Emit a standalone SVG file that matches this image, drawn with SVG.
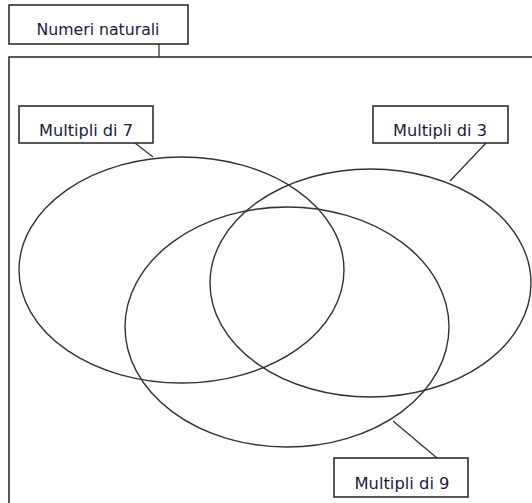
<svg xmlns="http://www.w3.org/2000/svg" width="532" height="503" viewBox="0 0 532 503">
<style>
.box{fill:#fff;stroke:#222;stroke-width:1.5}
.set{fill:none;stroke:#333;stroke-width:1.4}
.ln{fill:none;stroke:#333;stroke-width:1.3}
.lbl{font-family:"Comic Sans MS","DejaVu Sans Condensed","DejaVu Sans",sans-serif;font-size:15px;fill:#1a1a40;text-anchor:middle}
</style>
<rect width="532" height="503" fill="#fff"/>
<g id="universe">
<rect x="9" y="57" width="540" height="460" class="set" style="stroke:#222;stroke-width:1.5"/>
</g>
<g id="sets">
<ellipse id="set7" cx="181.5" cy="270" rx="162.5" ry="113" class="set"/>
<ellipse id="set3" cx="370.5" cy="283" rx="160.5" ry="114" class="set"/>
<ellipse id="set9" cx="287" cy="327" rx="162" ry="120" class="set"/>
</g>
<g id="connectors">
<line x1="159" y1="44" x2="159" y2="57" class="ln"/>
<line x1="135" y1="143" x2="153" y2="157" class="ln"/>
<line x1="486" y1="143" x2="450" y2="181" class="ln"/>
<line x1="437" y1="458" x2="393" y2="421" class="ln"/>
</g>
<g id="n-naturali">
<rect x="9" y="5" width="179" height="39" class="box"/>
<text x="98" y="35" class="lbl" textLength="123" lengthAdjust="spacingAndGlyphs">Numeri naturali</text>
</g>
<g id="n-7">
<rect x="19" y="106" width="134" height="37" class="box"/>
<text x="86" y="136" class="lbl" textLength="94" lengthAdjust="spacingAndGlyphs">Multipli di 7</text>
</g>
<g id="n-3">
<rect x="373" y="106" width="135" height="37" class="box"/>
<text x="440" y="136" class="lbl" textLength="94" lengthAdjust="spacingAndGlyphs">Multipli di 3</text>
</g>
<g id="n-9">
<rect x="334" y="458" width="134" height="39" class="box"/>
<text x="402" y="489" class="lbl" textLength="95" lengthAdjust="spacingAndGlyphs">Multipli di 9</text>
</g>
</svg>
